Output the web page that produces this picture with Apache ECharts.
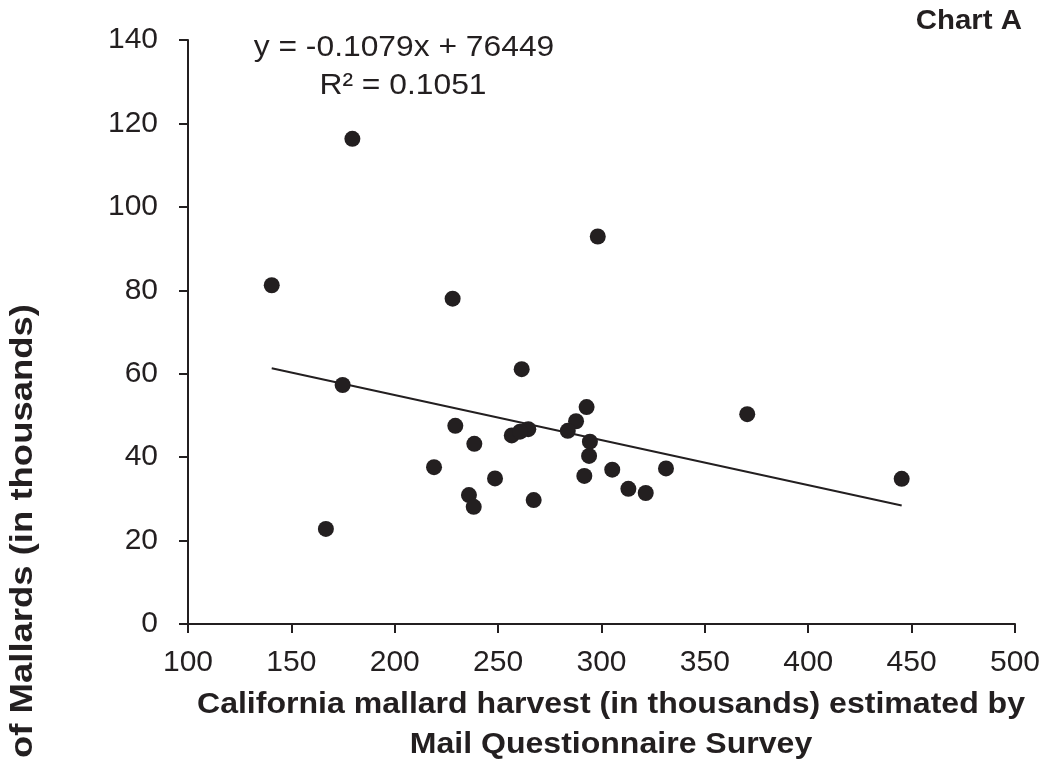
<!DOCTYPE html>
<html>
<head>
<meta charset="utf-8">
<script src="https://cdn.jsdelivr.net/npm/echarts@6/dist/echarts.min.js"></script>
<style>
html,body{margin:0;padding:0;background:#fff;}
#chart{width:1043px;height:761px;}
</style>
</head>
<body>
<div id="chart"></div>
<script>
// Harvest (x, thousands) estimated by Mail Questionnaire Survey
var harvestX = [179.5, 140.5, 174.8, 166.7, 298.2, 228.0, 261.4, 292.8, 287.7, 283.7,
                229.3, 264.6, 256.6, 260.6, 294.4, 238.5, 294.0, 219.0, 248.5, 291.7,
                305.2, 331.2, 313.0, 321.4, 235.9, 238.2, 267.2, 370.5, 445.2];
// Mallards (y, thousands)
var mallardsY = [116.3, 81.2, 57.3, 22.8, 92.9, 78.0, 61.1, 52.0, 48.6, 46.3,
                 47.5, 46.7, 45.2, 46.1, 43.7, 43.2, 40.3, 37.6, 34.9, 35.5,
                 37.0, 37.3, 32.4, 31.4, 30.9, 28.1, 29.7, 50.3, 34.8];
// Linear trendline as printed on chart
var trendSlope = -0.1079;
var trendIntercept = 76.449;
var trendRangeX = [140.5, 445.2];
var equationText = ["y = -0.1079x + 76449", "R\u00b2 = 0.1051"];
var xTicks = [100, 150, 200, 250, 300, 350, 400, 450, 500];
var yTicks = [0, 20, 40, 60, 80, 100, 120, 140];

var points = harvestX.map(function (x, i) { return [x, mallardsY[i]]; });
var trend = trendRangeX.map(function (x) { return [x, trendSlope * x + trendIntercept]; });

var ink = '#231f20';
var font = '"Liberation Sans", Arial, sans-serif';

var chart = echarts.init(document.getElementById('chart'));
chart.setOption({
  animation: false,
  backgroundColor: '#ffffff',
  grid: { left: 188, right: 28, top: 40, bottom: 137 },
  xAxis: {
    type: 'value', min: xTicks[0], max: xTicks[xTicks.length - 1], interval: 50,
    axisLine: { show: true, lineStyle: { color: ink, width: 2 } },
    axisTick: { show: true, length: 9, lineStyle: { color: ink, width: 2 } },
    axisLabel: { color: ink, fontSize: 30, fontFamily: font, margin: 24 },
    splitLine: { show: false }
  },
  yAxis: {
    type: 'value', min: yTicks[0], max: yTicks[yTicks.length - 1], interval: 20,
    axisLine: { show: true, lineStyle: { color: ink, width: 2 } },
    axisTick: { show: true, length: 9, lineStyle: { color: ink, width: 2 } },
    axisLabel: { color: ink, fontSize: 30, fontFamily: font, margin: 30 },
    splitLine: { show: false }
  },
  series: [
    {
      type: 'line', data: trend, symbol: 'none', silent: true,
      lineStyle: { color: ink, width: 2 }, z: 1
    },
    {
      type: 'scatter', data: points, symbol: 'circle', symbolSize: 16,
      itemStyle: { color: ink, opacity: 1 }, z: 2
    }
  ],
  graphic: [
    { type: 'text', x: 1022, y: 22, scaleX: 1.09,
      style: { text: 'Chart A', font: 'bold 27px ' + font, fill: ink, align: 'right', verticalAlign: 'middle' } },
    { type: 'text', x: 404, y: 48, scaleX: 1.06,
      style: { text: equationText[0], font: '30px ' + font, fill: ink, align: 'center', verticalAlign: 'middle' } },
    { type: 'text', x: 403, y: 86, scaleX: 1.06,
      style: { text: equationText[1], font: '30px ' + font, fill: ink, align: 'center', verticalAlign: 'middle' } },
    { type: 'text', x: 611, y: 705, scaleX: 1.105,
      style: { text: 'California mallard harvest (in thousands) estimated by', font: 'bold 29px ' + font, fill: ink, align: 'center', verticalAlign: 'middle' } },
    { type: 'text', x: 611, y: 745, scaleX: 1.105,
      style: { text: 'Mail Questionnaire Survey', font: 'bold 29px ' + font, fill: ink, align: 'center', verticalAlign: 'middle' } },
    { type: 'text', x: 23, y: 531, rotation: Math.PI / 2, scaleX: 1.14,
      style: { text: 'of Mallards (in thousands)', font: 'bold 32px ' + font, fill: ink, align: 'center', verticalAlign: 'middle' } }
  ]
});
</script>
</body>
</html>
